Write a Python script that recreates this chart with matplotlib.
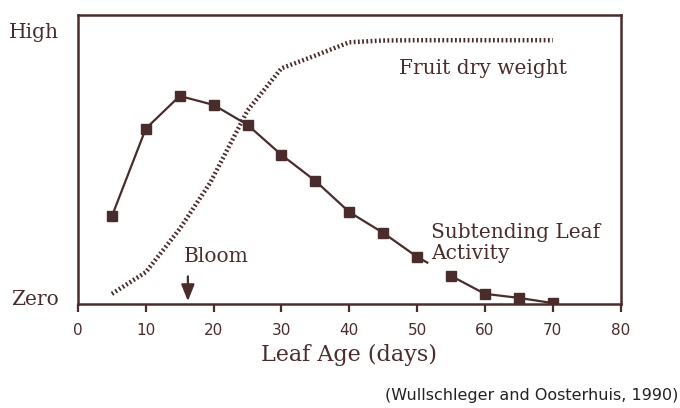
import matplotlib
matplotlib.use("Agg")
import matplotlib.pyplot as plt
import numpy as np

INK = "#4a2c2c"

# leaf activity (squares), relative units 0-100
leaf_age = [5, 10, 15, 20, 25, 30, 35, 40, 45, 50, 55, 60, 65, 70]
leaf_act = [30.4, 60.7, 72.0, 68.9, 62.0, 51.6, 42.6, 31.8, 24.6, 16.3, 9.7, 3.5, 2.1, 0.3]

# fruit dry weight (dotted)
fruit_age = [5, 10, 15, 19.5, 25, 30, 35, 40, 45, 50, 55, 60, 65, 70]
fruit_dw = [3.5, 11.0, 26.0, 42.0, 67.0, 81.6, 86.0, 90.6, 91.2, 91.3, 91.3, 91.3, 91.3, 91.3]

bloom_day = 16.2
gap_after = 9   # line breaks after day 50 for the label

fig = plt.figure(figsize=(6.8, 4.08), dpi=100)
fig.patch.set_facecolor("white")
ax = fig.add_axes([0.1147, 0.255, 0.798, 0.708])

ax.plot(fruit_age, fruit_dw, color=INK, lw=3.2, ls=(0, (0.4, 0.55)), solid_capstyle="butt", zorder=2)

# leaf line, broken where the label sits
xa, ya = np.array(leaf_age, float), np.array(leaf_act, float)
stub = 0.3
sx = xa[gap_after] + stub * (xa[gap_after + 1] - xa[gap_after])
sy = ya[gap_after] + stub * (ya[gap_after + 1] - ya[gap_after])
ax.plot(np.append(xa[:gap_after + 1], sx), np.append(ya[:gap_after + 1], sy), color=INK, lw=1.6, zorder=3)
ax.plot(xa[gap_after + 1:], ya[gap_after + 1:], color=INK, lw=1.6, zorder=3)
ax.plot(xa, ya, ls="none", color=INK, marker="s", ms=7, zorder=3)

SERIF = dict(family="DejaVu Serif", fontsize=14.5, color=INK)
ax.text(59.7, 81.6, "Fruit dry weight", ha="center", va="center", **SERIF)
ax.text(52.0, 21.2, "Subtending Leaf\nActivity", ha="left", va="center", linespacing=1.15, **SERIF)
ax.text(15.6, 16.3, "Bloom", ha="left", va="center", **SERIF)
ax.annotate("", xy=(bloom_day, 0), xytext=(bloom_day, 10.5),
            arrowprops=dict(arrowstyle="-|>,head_width=0.4,head_length=1.0", color=INK, lw=1.6))

ax.set_xlim(0, 80)
ax.set_ylim(0, 100)
ax.set_xticks(range(0, 81, 10))
ax.set_yticks([2.4, 94.8])
ax.set_yticklabels(["Zero", "High"], **SERIF)
ax.tick_params(axis="y", length=0, pad=14)
ax.tick_params(axis="x", direction="out", length=6, width=1.6, color=INK, labelcolor=INK,
               labelsize=11, pad=8)
for s in ax.spines.values():
    s.set_color(INK)
    s.set_linewidth(1.8)

ax.set_xlabel("Leaf Age (days)", family="DejaVu Serif", fontsize=16, color=INK, labelpad=4)

fig.text(0.997, 0.03, "(Wullschleger and Oosterhuis, 1990)", ha="right", va="center",
         fontsize=11.5, color="#222222", family="DejaVu Sans")

fig.savefig("out.png", dpi=100, facecolor="white")
